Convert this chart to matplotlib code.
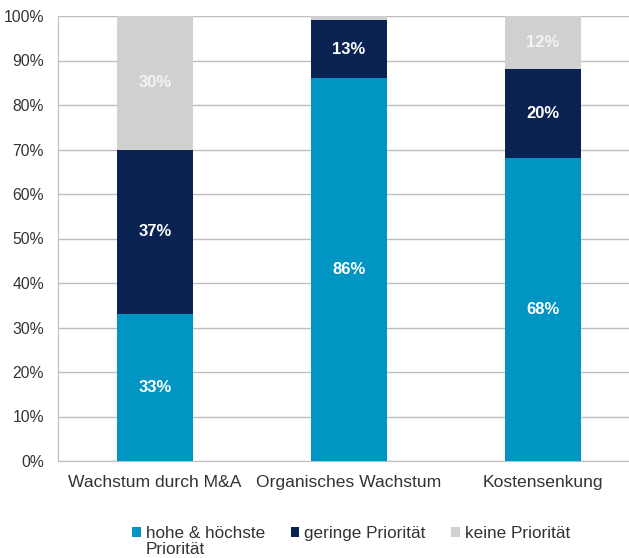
import matplotlib.pyplot as plt
import numpy as np

plt.rcParams['font.family'] = ['Liberation Sans', 'DejaVu Sans']

categories = ['Wachstum durch M&A', 'Organisches Wachstum', 'Kostensenkung']
hoch = [33, 86, 68]
gering = [37, 13, 20]
keine = [30, 1, 12]
series_names = ['hohe & höchste', 'geringe Priorität', 'keine Priorität']
colors = ['#0095c2', '#0a2352', '#d0d0d0']
label_colors = ['white', 'white', '#f4f4f4']

fig = plt.figure(figsize=(6.29, 5.58), dpi=100)
# axes runs slightly past the right edge of the figure
ax = fig.add_axes([58 / 629, 97 / 558, 582 / 629, 445 / 558])

x = np.arange(len(categories))
bottom = np.zeros(len(categories))
for vals, name, col, lcol in zip([hoch, gering, keine], series_names, colors, label_colors):
    vals = np.array(vals)
    ax.bar(x, vals, width=0.39, bottom=bottom, color=col, label=name, zorder=3)
    for xi, b, v in zip(x, bottom, vals):
        if v >= 5:
            ax.text(xi, b + v / 2, f'{v}%', ha='center', va='center',
                    color=lcol, fontsize=12, fontweight='bold', zorder=4)
    bottom += vals

ax.set_xlim(-0.5, 2.5)
ax.set_ylim(0, 100)
ax.set_yticks(range(0, 101, 10))
ax.set_yticklabels([f'{t}%' for t in range(0, 101, 10)])
ax.set_xticks(x)
ax.set_xticklabels(categories)
ax.tick_params(axis='both', length=0, colors='#333333')
ax.tick_params(axis='y', labelsize=11.3, pad=10)
ax.tick_params(axis='x', labelsize=12.6, pad=10)
ax.grid(axis='y', color='#bdbdbd', linewidth=1, zorder=0)
for side in ['top', 'right']:
    ax.spines[side].set_visible(False)
for side in ['left', 'bottom']:
    ax.spines[side].set_color('#bdbdbd')

leg = fig.legend(loc='upper left', bbox_to_anchor=(132 / 629, 1 - 526 / 558), ncol=3,
                 frameon=False, fontsize=12.3, handlelength=0.5, handleheight=0.5,
                 handletextpad=0.3, columnspacing=1.5, labelcolor='#333333',
                 borderaxespad=0, borderpad=0)

# second line of the first legend entry, set under its first line
fig.canvas.draw()
bb = leg.texts[0].get_window_extent()
fig.text(bb.x0 / fig.bbox.width, (bb.y0 - 1) / fig.bbox.height, 'Priorität',
         ha='left', va='top', fontsize=12.3, color='#333333')

fig.savefig('out.png', dpi=100)
